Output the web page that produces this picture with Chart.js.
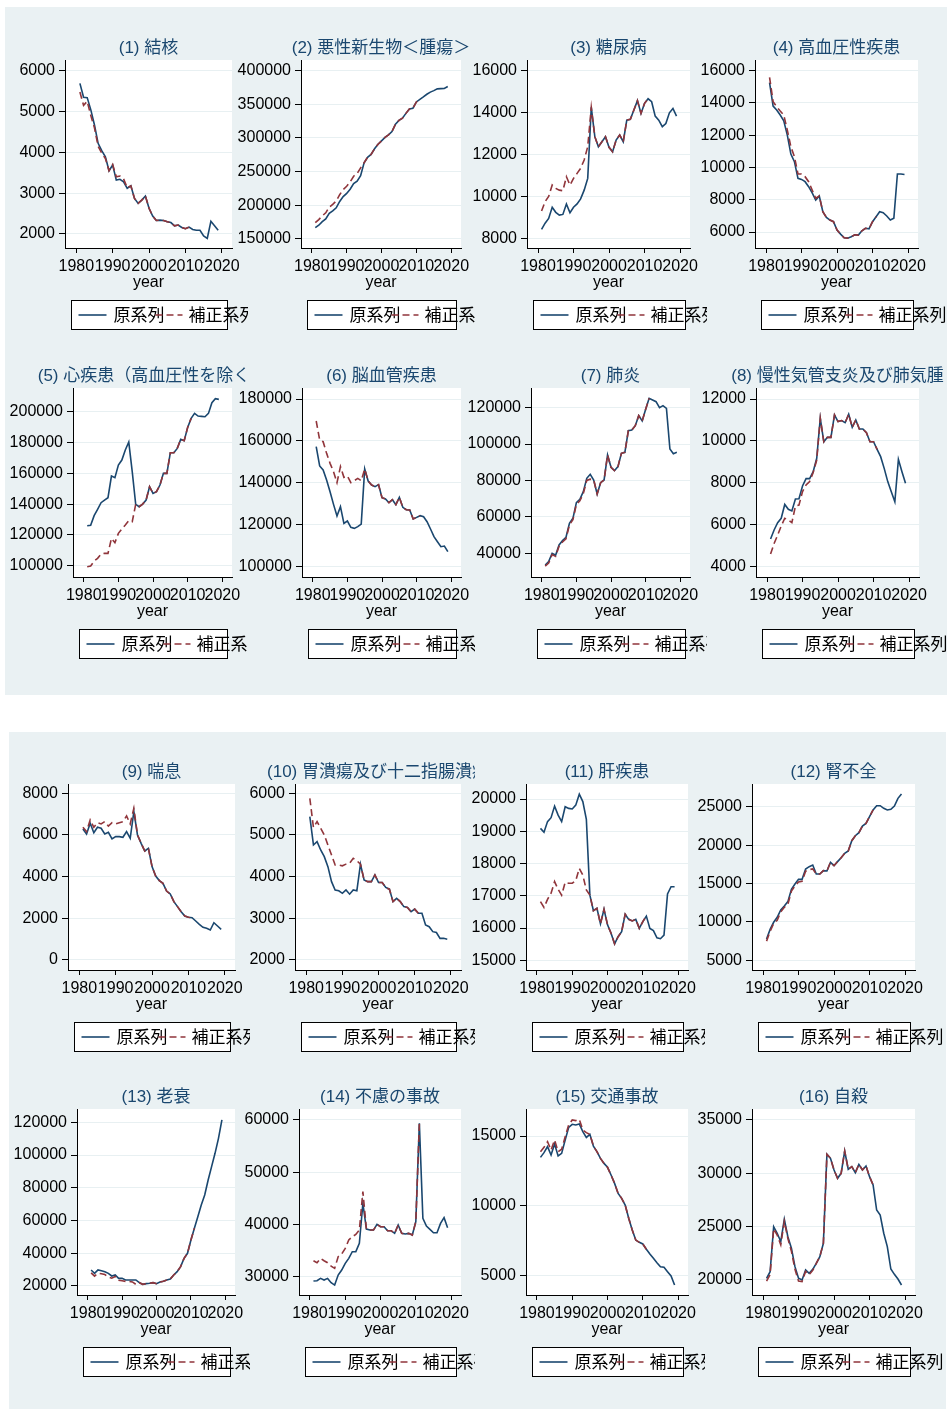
<!DOCTYPE html>
<html><head><meta charset="utf-8">
<script src="https://cdn.jsdelivr.net/npm/chart.js@4/dist/chart.umd.min.js"></script>
<style>
html,body{margin:0;padding:0;background:#fff}
body{width:947px;height:1409px;position:relative;overflow:hidden}
.panel{position:absolute;background:#eaf1f3}
canvas{position:absolute}
</style></head><body>
<div class="panel" style="left:5px;top:7px;width:942px;height:688px"></div>
<div class="panel" style="left:9px;top:732px;width:937px;height:677px"></div>
<script>
// ---------- data ----------
const years = [1981,1982,1983,1984,1985,1986,1987,1988,1989,1990,1991,1992,1993,1994,1995,1996,1997,1998,1999,2000,2001,2002,2003,2004,2005,2006,2007,2008,2009,2010,2011,2012,2013,2014,2015,2016,2017,2018,2019];
const corrYears = [1981,1982,1983,1984,1985,1986,1987,1988,1989,1990,1991,1992,1993,1994,1995,1996,1997,1998,1999,2000,2001,2002,2003,2004,2005,2006,2007,2008,2009,2010,2011];
const xTickLabels = [1980,1990,2000,2010,2020];
const legendLabels = ["原系列","補正系列"];
const titles = ["(1) 結核","(2) 悪性新生物＜腫瘍＞","(3) 糖尿病","(4) 高血圧性疾患","(5) 心疾患（高血圧性を除く）","(6) 脳血管疾患","(7) 肺炎","(8) 慢性気管支炎及び肺気腫","(9) 喘息","(10) 胃潰瘍及び十二指腸潰瘍","(11) 肝疾患","(12) 腎不全","(13) 老衰","(14) 不慮の事故","(15) 交通事故","(16) 自殺"];

const s1Orig = [5690,5350,5340,5040,4670,4220,4040,3890,3550,3690,3320,3340,3280,3120,3180,2870,2750,2830,2930,2630,2440,2330,2340,2330,2300,2280,2200,2220,2160,2130,2170,2110,2090,2090,1950,1890,2310,2200,2090];
const s1Corr = [5480,5150,5250,4900,4600,4150,3980,3850,3550,3700,3400,3420,3350,3130,3180,2870,2750,2830,2930,2630,2440,2330,2340,2330,2300,2280,2200,2220,2160,2130,2170];
const s1Ticks = [2000,3000,4000,5000,6000];

const s2Orig = [166400,170100,175300,179500,187700,191400,196000,205500,212600,217400,223700,231900,235700,243700,263000,271200,275400,283900,290600,295500,300700,304600,309500,320400,326000,329300,336500,342900,344100,353500,357300,360900,364900,368100,370300,373000,373300,373600,376400];
const s2Corr = [174000,178500,184000,188500,197000,201000,206000,215500,223000,228000,234500,243000,247000,255500,263000,271200,275400,283900,290600,295500,300700,304600,309500,320400,326000,329300,336500,342900,344100,353500,357300];
const s2Ticks = [150000,200000,250000,300000,350000,400000];

const s3Orig = [8430,8720,8950,9480,9240,9110,9140,9640,9220,9480,9640,9880,10300,10860,14250,12850,12370,12610,12850,12340,12130,12690,12930,12610,13640,13680,14120,14570,13960,14440,14660,14520,13830,13640,13330,13480,13990,14200,13830];
const s3Corr = [9300,9750,10000,10540,10380,10300,10270,10940,10540,10860,11100,11340,11740,12370,14250,12850,12370,12610,12850,12340,12130,12690,12930,12610,13640,13680,14120,14570,13960,14440,14660];
const s3Ticks = [8000,10000,12000,14000,16000];

const s4Orig = [15260,13810,13560,13250,12900,12010,10830,10360,9330,9260,9120,8810,8430,7980,8230,7260,6910,6740,6640,6120,5870,5640,5620,5710,5830,5810,6080,6230,6200,6640,6950,7260,7200,6990,6740,6850,9600,9600,9570];
const s4Corr = [15590,14080,13770,13500,13250,12320,11290,10670,9600,9600,9430,9120,8600,8090,8230,7260,6910,6740,6640,6120,5870,5640,5620,5710,5830,5810,6080,6230,6200,6640,6950];
const s4Ticks = [6000,8000,10000,12000,14000,16000];

const s5Orig = [125970,126200,132470,136580,140910,142640,144160,158230,157140,165370,168610,175110,180300,161040,139830,138310,140040,142640,151300,146970,148050,152380,159960,159960,173380,173380,176190,182030,181170,189830,195670,198920,197190,196970,196750,198920,205840,208440,208010];
const s5Corr = [99350,99780,103030,104760,107580,108010,108010,117750,114940,121000,123810,126410,129220,128570,139830,138310,140040,142640,151300,146970,148050,152380,159960,159960,173380,173380,176190,182030,181170,189830,195670];
const s5Ticks = [100000,120000,140000,160000,180000,200000];

const s6Orig = [157260,148030,146120,141350,135780,129740,124170,128630,120680,121790,118770,118290,119090,120360,146600,140880,138970,138170,139130,132920,132290,130540,131970,129580,133080,128310,127200,127040,122740,123540,124330,123860,121470,117970,114310,111930,109540,109860,107160];
const s6Corr = [169500,160440,159640,154070,149300,145330,140080,147710,142630,143260,140080,141040,142150,141040,146600,140880,138970,138170,139130,132920,132290,130540,131970,129580,133080,128310,127200,127040,122740,123540,124330];
const s6Ticks = [100000,120000,140000,160000,180000];

const s7Orig = [33590,35420,40000,38900,44580,46960,48790,56480,59220,67830,69660,73870,81190,83390,80280,72590,78810,80280,94000,87230,85400,87600,94920,95470,107370,107730,110110,115600,112680,119090,125130,124210,123300,120000,121100,119630,97300,94730,95470];
const s7Corr = [33000,34600,39300,38300,43900,46200,48000,55600,58400,66900,68800,72900,80000,80700,80280,72590,78810,80280,94000,87230,85400,87600,94920,95470,107370,107730,110110,115600,112680,119090,125130];
const s7Ticks = [40000,60000,80000,100000,120000];

const s8Orig = [5320,5750,6100,6310,6970,6740,6660,7230,7240,7850,8200,8200,8530,9170,11080,9960,10170,10170,11240,10920,10970,10870,11270,10650,11000,10570,10570,10390,9960,9960,9600,9250,8690,8060,7580,7100,9120,8530,7980];
const s8Corr = [4600,5110,5510,5940,6310,6230,6100,6890,6940,7580,7900,8060,8490,9090,11080,9960,10170,10170,11240,10920,10970,10870,11270,10650,11000,10570,10570,10390,9960,9960,9600];
const s8Ticks = [4000,6000,8000,10000,12000];

const s9Orig = [6290,6050,6560,6110,6370,6320,6050,6130,5810,5920,5920,5890,6160,5840,7120,6000,5600,5230,5360,4480,4030,3810,3680,3310,3170,2800,2560,2320,2110,2050,2030,1870,1710,1570,1520,1440,1790,1630,1470];
const s9Corr = [6370,6160,6720,6370,6590,6530,6640,6430,6590,6530,6590,6640,6910,6530,7280,6000,5600,5230,5360,4480,4030,3810,3680,3310,3170,2800,2560,2320,2110,2050,2030];
const s9Ticks = [0,2000,4000,6000,8000];

const s10Orig = [5440,4760,4840,4640,4480,4240,3880,3680,3660,3600,3680,3580,3680,3660,4300,3920,3880,3880,4040,3860,3860,3740,3700,3400,3480,3400,3280,3260,3160,3220,3120,3120,2840,2800,2680,2660,2520,2520,2500];
const s10Corr = [5880,5180,5320,5160,5000,4760,4520,4280,4280,4260,4300,4320,4440,4380,4300,3920,3880,3880,4040,3860,3860,3740,3700,3400,3480,3400,3280,3260,3160,3220,3120];
const s10Ticks = [2000,3000,4000,5000,6000];

const s11Orig = [19090,18970,19300,19420,19780,19500,19300,19760,19710,19690,19810,20150,19920,19370,17020,16540,16610,16130,16580,16100,15840,15510,15730,15890,16430,16270,16220,16270,15990,16200,16370,15990,15920,15700,15670,15780,17060,17280,17280];
const s11Corr = [16820,16640,16890,17080,17440,17200,17020,17420,17390,17390,17470,17850,17640,17180,17020,16540,16610,16130,16580,16100,15840,15510,15730,15890,16430,16270,16220,16270,15990,16200,16370];
const s11Ticks = [15000,16000,17000,18000,19000,20000];

const s12Orig = [7780,9030,9950,10600,11550,12070,12640,14240,14930,15540,15540,16880,17190,17400,16230,16230,16670,16630,17760,17320,17850,18360,18930,19230,20570,21220,21610,22480,22830,23700,24570,25130,25130,24790,24570,24660,25090,26090,26660];
const s12Corr = [7500,8750,9800,10200,11300,11900,12300,14000,14700,15200,15300,16600,16800,16900,16230,16230,16670,16630,17760,17320,17850,18360,18930,19230,20570,21220,21610,22480,22830,23700,24570];
const s12Ticks = [5000,10000,15000,20000,25000];

const s13Orig = [29780,27740,29780,29370,28760,27740,26110,26720,24680,24680,23670,23670,23670,23670,22040,21020,21430,21630,22040,21430,22440,22850,23670,24280,26720,28760,31810,36900,39960,48110,55230,62360,69490,75600,84760,92910,101060,110220,121430];
const s13Corr = [28000,26000,27800,27500,27000,25500,24800,25800,23500,23200,22800,22800,22500,21000,22040,21020,21430,21630,22040,21430,22440,22850,23670,24280,26720,28760,31810,36900,39960,48110,55230];
const s13Ticks = [20000,40000,60000,80000,100000,120000];

const s14Orig = [29170,29230,29680,29360,29680,28850,28400,30320,31280,32550,33510,34790,34790,36380,44040,39130,38930,38930,40020,39570,39570,38810,38810,38300,39890,38300,38170,38300,37980,40530,59360,41170,39700,39060,38420,38420,40210,41300,39380];
const s14Corr = [33060,32680,33510,33060,32680,32040,31600,33830,34340,35420,37020,37660,38100,38930,46300,39130,38930,38930,40020,39570,39570,38810,38810,38300,39890,38300,38170,38300,37980,40530,59360];
const s14Ticks = [30000,40000,50000,60000];

const s15Orig = [13470,13810,14240,13640,14430,13570,13760,14710,15620,15840,15790,15860,15310,14900,15120,14280,13880,13400,13040,12760,12210,11610,10890,10540,10060,9110,8270,7550,7390,7270,6890,6550,6240,5930,5640,5600,5290,4980,4330];
const s15Corr = [13880,14190,14590,14000,14710,13880,14050,14950,15790,16150,16100,16190,15430,15240,15120,14280,13880,13400,13040,12760,12210,11610,10890,10540,10060,9110,8270,7550,7390,7270,6890];
const s15Ticks = [5000,10000,15000];

const s16Orig = [20160,20780,25000,24380,23590,25690,24060,22970,21250,20160,20000,20940,20630,21000,21560,22190,23440,31780,31410,30310,29530,30000,32090,30380,30630,30060,30840,30310,30690,29690,28910,26560,26090,24380,23130,21030,20530,20090,19530];
const s16Corr = [19900,20500,24800,24200,23300,25500,23900,22700,21000,19900,19850,20800,20500,20900,21560,22190,23440,31780,31410,30310,29530,30000,32090,30380,30630,30060,30840,30310,30690,29690,28910];
const s16Ticks = [20000,25000,30000,35000];

const origSeries = [s1Orig,s2Orig,s3Orig,s4Orig,s5Orig,s6Orig,s7Orig,s8Orig,s9Orig,s10Orig,s11Orig,s12Orig,s13Orig,s14Orig,s15Orig,s16Orig];
const corrSeries = [s1Corr,s2Corr,s3Corr,s4Corr,s5Corr,s6Corr,s7Corr,s8Corr,s9Corr,s10Corr,s11Corr,s12Corr,s13Corr,s14Corr,s15Corr,s16Corr];
const yTickSets = [s1Ticks,s2Ticks,s3Ticks,s4Ticks,s5Ticks,s6Ticks,s7Ticks,s8Ticks,s9Ticks,s10Ticks,s11Ticks,s12Ticks,s13Ticks,s14Ticks,s15Ticks,s16Ticks];

// ---------- axis ranges (from the picture) ----------
const yRanges = [[1657,6262],[136200,415900],[7537,16510],[5009,16663],[92660,215400],[95080,185250],[26980,130800],[3508,12525],[-480,8446],[1760,6223],[14700,20465],[3737,27955],[14500,128130],[26500,62100],[3617,16934],[18593,36030]];
const X_MIN = 1976.9, X_MAX = 2022.8;

// ---------- layout ----------
const rows = [{t:60,b:248},{t:388,b:577},{t:784,b:970},{t:1109,b:1295}];
const plotX = [[65,232],[301,461],[527,690],[755,918],[73,232],[302,461],[531,690],[756,919],[68,235],[295,461],[526,688],[752,915],[77,235],[299,461],[526,688],[752,915]];
const clipsTop = [[5,248],[248,475],[475,707],[707,947]];
const clipsBot = [[9,250],[250,475],[475,705],[705,947]];

const BLUE = '#1a476f', RED = '#90353b', GRID = '#e8f0f2';
const FONT = '"Liberation Sans", Arial, "Noto Sans CJK JP", sans-serif';
const OFF = 40, CW = 947 + OFF;
const YW = 90, TOPPAD = 60, BOTPAD = 100, XAXH = 44;

const deco = {
  id: 'deco',
  beforeDraw(chart, args, opts) {
    const {ctx, chartArea: a} = chart;
    ctx.save();
    ctx.fillStyle = '#fff';
    ctx.fillRect(a.left, a.top, a.right - a.left, a.bottom - a.top);
    ctx.restore();
  },
  afterDraw(chart, args, opts) {
    const {ctx, chartArea: a} = chart;
    const cx = (a.left + a.right) / 2;
    ctx.save();
    ctx.beginPath();
    ctx.rect(opts.clipL + OFF, 0, opts.clipR - opts.clipL, chart.height);
    ctx.clip();
    // title
    ctx.font = '17px ' + FONT;
    ctx.fillStyle = BLUE;
    ctx.textAlign = 'center';
    ctx.textBaseline = 'middle';
    ctx.fillText(opts.title, cx, a.top - 12);
    // legend
    const bw = Math.round(a.right - a.left - 11);
    const bl = Math.round(cx - bw / 2) + 0.5;
    const bt = Math.round(a.bottom + 52) + 0.5;
    const bh = 29;
    ctx.fillStyle = '#fff';
    ctx.fillRect(bl, bt, bw, bh);
    ctx.strokeStyle = '#000';
    ctx.lineWidth = 1;
    ctx.strokeRect(bl, bt, bw, bh);
    const my = bt + bh / 2;
    ctx.lineWidth = 1.6;
    ctx.strokeStyle = BLUE;
    ctx.beginPath(); ctx.moveTo(bl + 7, my); ctx.lineTo(bl + 35, my); ctx.stroke();
    ctx.fillStyle = '#000';
    ctx.textAlign = 'left';
    ctx.fillText(legendLabels[0], bl + 42, my + 1);
    ctx.strokeStyle = RED;
    ctx.setLineDash([7, 4]);
    ctx.beginPath(); ctx.moveTo(bl + 84, my); ctx.lineTo(bl + 111, my); ctx.stroke();
    ctx.setLineDash([]);
    ctx.fillText(legendLabels[1], bl + 117, my + 1);
    ctx.restore();
  }
};

for (let i = 0; i < 16; i++) {
  const row = rows[Math.floor(i / 4)];
  const col = i % 4;
  const clip = (i < 8 ? clipsTop : clipsBot)[col];
  const [pl, pr] = plotX[i];
  const cv = document.createElement('canvas');
  const h = TOPPAD + (row.b - row.t) + BOTPAD;
  cv.width = CW; cv.height = h;
  cv.style.left = (-OFF) + 'px';
  cv.style.top = (row.t - TOPPAD) + 'px';
  cv.style.width = CW + 'px'; cv.style.height = h + 'px';
  document.body.appendChild(cv);
  const yt = yTickSets[i];
  new Chart(cv.getContext('2d'), {
    type: 'line',
    data: {
      datasets: [
        {label: legendLabels[0], data: years.map((y, k) => ({x: y, y: origSeries[i][k]})), borderColor: BLUE, borderWidth: 1.6, pointRadius: 0, tension: 0, fill: false, order: 1},
        {label: legendLabels[1], data: corrYears.map((y, k) => ({x: y, y: corrSeries[i][k]})), borderColor: RED, borderWidth: 1.6, borderDash: [7, 4], pointRadius: 0, tension: 0, fill: false, order: 0}
      ]
    },
    options: {
      responsive: false, animation: false, events: [],
      layout: {padding: {top: TOPPAD, bottom: BOTPAD - XAXH, left: pl + OFF - YW, right: 947 - pr}},
      plugins: {legend: {display: false}, title: {display: false}, tooltip: {enabled: false},
        deco: {title: titles[i], clipL: clip[0], clipR: clip[1]}},
      scales: {
        x: {
          type: 'linear', min: X_MIN, max: X_MAX, bounds: 'data',
          afterBuildTicks: s => { s.ticks = xTickLabels.map(v => ({value: v})); },
          afterFit: s => { s.height = XAXH; s.paddingLeft = 0; s.paddingRight = 0; },
          ticks: {autoSkip: false, maxRotation: 0, minRotation: 0, padding: 4, color: '#000', font: {family: FONT, size: 16}, callback: v => String(v)},
          grid: {display: true, drawOnChartArea: false, drawTicks: true, tickLength: 5, tickColor: '#000', color: '#000'},
          border: {display: true, color: '#000', width: 1},
          title: {display: true, text: 'year', color: '#000', font: {family: FONT, size: 16}, padding: {top: 0, bottom: 0}}
        },
        y: {
          type: 'linear', min: yRanges[i][0], max: yRanges[i][1], bounds: 'data',
          afterBuildTicks: s => { s.ticks = yt.map(v => ({value: v})); },
          afterFit: s => { s.width = YW; s.paddingTop = 0; s.paddingBottom = 0; },
          ticks: {padding: 4, color: '#000', font: {family: FONT, size: 16}, callback: v => String(v)},
          grid: {color: GRID, lineWidth: 1, tickColor: '#000', tickLength: 6, drawTicks: true},
          border: {display: true, color: '#000', width: 1}
        }
      }
    },
    plugins: [deco]
  });
}
</script>
</body></html>
